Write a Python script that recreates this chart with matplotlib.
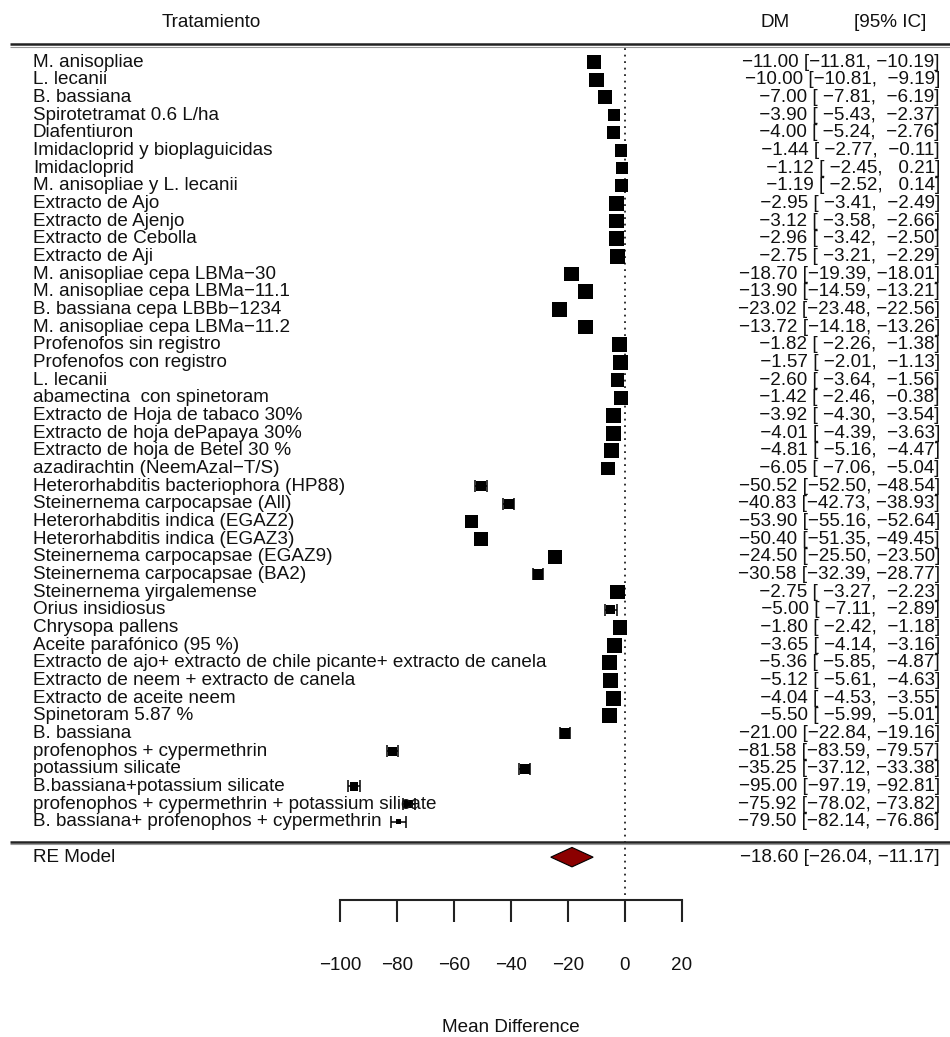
import numpy as np
import matplotlib.pyplot as plt

plt.rcParams['font.family'] = ['Liberation Sans', 'DejaVu Sans']

# datos del forest plot (DM e IC 95%)
tratamientos = [
    "M. anisopliae", "L. lecanii", "B. bassiana", "Spirotetramat 0.6 L/ha",
    "Diafentiuron", "Imidacloprid y bioplaguicidas", "Imidacloprid",
    "M. anisopliae y L. lecanii", "Extracto de Ajo", "Extracto de Ajenjo",
    "Extracto de Cebolla", "Extracto de Aji", "M. anisopliae cepa LBMa\u221230",
    "M. anisopliae cepa LBMa\u221211.1", "B. bassiana cepa LBBb\u22121234",
    "M. anisopliae cepa LBMa\u221211.2", "Profenofos sin registro",
    "Profenofos con registro", "L. lecanii", "abamectina  con spinetoram",
    "Extracto de Hoja de tabaco 30%", "Extracto de hoja dePapaya 30%",
    "Extracto de hoja de Betel 30 %", "azadirachtin (NeemAzal\u2212T/S)",
    "Heterorhabditis bacteriophora (HP88)", "Steinernema carpocapsae (All)",
    "Heterorhabditis indica (EGAZ2)", "Heterorhabditis indica (EGAZ3)",
    "Steinernema carpocapsae (EGAZ9)", "Steinernema carpocapsae (BA2)",
    "Steinernema yirgalemense", "Orius insidiosus", "Chrysopa pallens",
    "Aceite parafónico (95 %)",
    "Extracto de ajo+ extracto de chile picante+ extracto de canela",
    "Extracto de neem + extracto de canela", "Extracto de aceite neem",
    "Spinetoram 5.87 %", "B. bassiana", "profenophos + cypermethrin",
    "potassium silicate", "B.bassiana+potassium silicate",
    "profenophos + cypermethrin + potassium silicate",
    "B. bassiana+ profenophos + cypermethrin",
]
dm = np.array([
    -11.00, -10.00, -7.00, -3.90, -4.00, -1.44, -1.12, -1.19, -2.95, -3.12,
    -2.96, -2.75, -18.70, -13.90, -23.02, -13.72, -1.82, -1.57, -2.60, -1.42,
    -3.92, -4.01, -4.81, -6.05, -50.52, -40.83, -53.90, -50.40, -24.50, -30.58,
    -2.75, -5.00, -1.80, -3.65, -5.36, -5.12, -4.04, -5.50, -21.00, -81.58,
    -35.25, -95.00, -75.92, -79.50,
])
ic_inf = np.array([
    -11.81, -10.81, -7.81, -5.43, -5.24, -2.77, -2.45, -2.52, -3.41, -3.58,
    -3.42, -3.21, -19.39, -14.59, -23.48, -14.18, -2.26, -2.01, -3.64, -2.46,
    -4.30, -4.39, -5.16, -7.06, -52.50, -42.73, -55.16, -51.35, -25.50, -32.39,
    -3.27, -7.11, -2.42, -4.14, -5.85, -5.61, -4.53, -5.99, -22.84, -83.59,
    -37.12, -97.19, -78.02, -82.14,
])
ic_sup = np.array([
    -10.19, -9.19, -6.19, -2.37, -2.76, -0.11, 0.21, 0.14, -2.49, -2.66,
    -2.50, -2.29, -18.01, -13.21, -22.56, -13.26, -1.38, -1.13, -1.56, -0.38,
    -3.54, -3.63, -4.47, -5.04, -48.54, -38.93, -52.64, -49.45, -23.50, -28.77,
    -2.23, -2.89, -1.18, -3.16, -4.87, -4.63, -3.55, -5.01, -19.16, -79.57,
    -33.38, -92.81, -73.82, -76.86,
])
re_dm, re_inf, re_sup = -18.60, -26.04, -11.17
ticks_x = [-100, -80, -60, -40, -20, 0, 20]

k = len(tratamientos)
filas = np.arange(k, 0, -1)


# posiciones en pixeles -> coordenadas de datos
def px_x(p):
    return (p - 625) / 2.85


def px_y(p):
    return k - (p - 62) / 17.67


# tamaño de los cuadrados como en metafor (pesos RE)
vi = ((ic_sup - ic_inf) / (2 * 1.96)) ** 2
w = 1 / vi
ybar = np.sum(w * dm) / np.sum(w)
Q = np.sum(w * (dm - ybar) ** 2)
C = np.sum(w) - np.sum(w ** 2) / np.sum(w)
tau2 = max(0, (Q - (k - 1)) / C)
wi = 1 / (vi + tau2)
psize = wi / wi.sum()
psize = (psize - psize.min()) / (psize.max() - psize.min()) + 0.5

fig = plt.figure(figsize=(9.5, 10.37), dpi=100)
ax = fig.add_axes([0, 0, 1, 1])
ax.set_xlim(px_x(0), px_x(950))
ax.set_ylim(px_y(1037), px_y(0))

fs = 13.6
col = '#111111'

# lineas horizontales
for yy in (k + 1, -0.15):
    ax.plot([px_x(10), px_x(950)], [yy, yy], color='#222222', lw=1.8,
            solid_capstyle='butt')
    ax.plot([px_x(10), px_x(950)], [yy - 0.13, yy - 0.13], color='#999999',
            lw=0.8, solid_capstyle='butt')

# linea de referencia en 0
ax.plot([0, 0], [px_y(895), k + 1], color='#222222', lw=1.3,
        dashes=(1, 2.6))

# IC y cuadrados
ax.errorbar(dm, filas, xerr=[dm - ic_inf, ic_sup - dm], fmt='none',
            ecolor='black', elinewidth=1.1, capsize=4.5, capthick=1.1)
ax.scatter(dm, filas, marker='s', s=(psize * 10 * 0.72) ** 2, c='black',
           linewidths=0, zorder=3)

# diamante del modelo RE
ax.fill([re_inf, re_dm, re_sup, re_dm], [-1, -1 + 0.55, -1, -1 - 0.55],
        facecolor='#8b0000', edgecolor='black', lw=0.8, zorder=3)


def fmt(v):
    return f"{v:6.2f}".replace('-', '\u2212')


for y, lab, e, lo, hi in zip(filas, tratamientos, dm, ic_inf, ic_sup):
    ax.text(px_x(33), y, lab, ha='left', va='center', fontsize=fs, color=col)
    ax.text(px_x(940), y, f"{fmt(e)} [{fmt(lo)}, {fmt(hi)}]", ha='right',
            va='center', fontsize=fs, color=col)

ax.text(px_x(33), -1, "RE Model", ha='left', va='center', fontsize=fs, color=col)
ax.text(px_x(940), -1, f"{fmt(re_dm)} [{fmt(re_inf)}, {fmt(re_sup)}]",
        ha='right', va='center', fontsize=fs, color=col)

# encabezados
hy = px_y(22)
ax.text(px_x(211), hy, "Tratamiento", ha='center', va='center', fontsize=fs, color=col)
ax.text(px_x(775), hy, "DM", ha='center', va='center', fontsize=fs, color=col)
ax.text(px_x(890), hy, "[95% IC]", ha='center', va='center', fontsize=fs, color=col)

# eje x
for s in ('top', 'right', 'left'):
    ax.spines[s].set_visible(False)
ax.spines['bottom'].set_position(('data', px_y(900)))
ax.spines['bottom'].set_bounds(-100, 20)
ax.spines['bottom'].set_linewidth(1.5)
ax.spines['bottom'].set_color('#222222')
ax.set_xticks(ticks_x)
ax.set_xticklabels([str(t).replace('-', '\u2212') for t in ticks_x])
ax.tick_params(axis='x', direction='out', length=15.8, width=1.5,
               colors='#222222', labelsize=fs, pad=25, labelcolor=col)
ax.set_yticks([])
ax.text(-40, px_y(1027), "Mean Difference", ha='center', va='center',
        fontsize=fs, color=col)

fig.savefig('out.png', dpi=100)
